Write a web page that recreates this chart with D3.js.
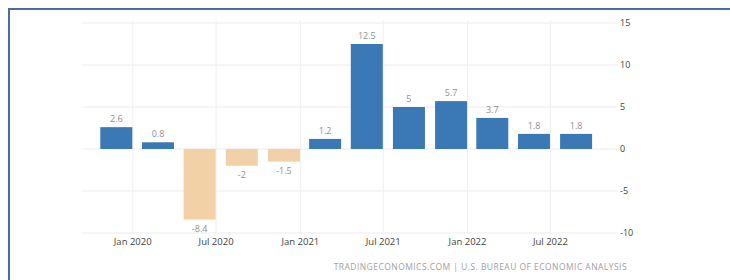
<!DOCTYPE html>
<html>
<head>
    <style>
        html, body { margin: 0; padding: 0; background: #fff; overflow: hidden; }
        body { width: 730px; height: 280px; }
        text { font-family: "Open Sans", "DejaVu Sans", sans-serif; }
    </style>
</head>
<body>
<script src="https://d3js.org/d3.v7.min.js"></script>
<script>
    // quarter-end dates and GDP growth values
    const dates = ["2019-12-31", "2020-03-31", "2020-06-30", "2020-09-30", "2020-12-31", "2021-03-31",
                   "2021-06-30", "2021-09-30", "2021-12-31", "2022-03-31", "2022-06-30", "2022-09-30"];
    const values = [2.6, 0.8, -8.4, -2, -1.5, 1.2, 12.5, 5, 5.7, 3.7, 1.8, 1.8];
    const labels = ["2.6", "0.8", "-8.4", "-2", "-1.5", "1.2", "12.5", "5", "5.7", "3.7", "1.8", "1.8"];
    const xTicks = ["2020-01-01", "2020-07-01", "2021-01-01", "2021-07-01", "2022-01-01", "2022-07-01"];
    const yTicks = [15, 10, 5, 0, -5, -10];

    const width = 730, height = 280;
    const plotLeft = 81, plotRight = 615, plotTop = 23, plotBottom = 233;
    const barWidth = 32;

    const parse = d3.utcParse("%Y-%m-%d");

    const svg = d3.select("body").append("svg")
        .attr("width", width)
        .attr("height", height);

    // frame: top and left border only
    svg.append("line").attr("x1", 9).attr("x2", 730).attr("y1", 9).attr("y2", 9)
        .attr("stroke", "#4f6aa6").attr("stroke-width", 2);
    svg.append("line").attr("x1", 9).attr("x2", 9).attr("y1", 8).attr("y2", 280)
        .attr("stroke", "#4f6aa6").attr("stroke-width", 2);

    const x = d3.scaleUtc()
        .domain([parse("2019-09-10"), parse("2022-11-19")])
        .range([plotLeft, plotRight]);
    const y = d3.scaleLinear().domain([-10, 15]).range([plotBottom, plotTop]);

    // horizontal grid
    svg.append("g").selectAll("line")
        .data(yTicks)
        .join("line")
        .attr("x1", plotLeft).attr("x2", plotRight + 3)
        .attr("y1", d => y(d)).attr("y2", d => y(d))
        .attr("stroke", "#ebebeb").attr("stroke-width", 1);

    // vertical grid
    svg.append("g").selectAll("line")
        .data(xTicks.map(parse))
        .join("line")
        .attr("x1", d => x(d)).attr("x2", d => x(d))
        .attr("y1", plotTop - 3).attr("y2", plotBottom)
        .attr("stroke", "#f0f0f0").attr("stroke-width", 1);

    const data = dates.map((d, i) => ({date: parse(d), value: values[i], label: labels[i]}));

    svg.append("g").selectAll("rect")
        .data(data)
        .join("rect")
        .attr("x", d => x(d.date) - barWidth)
        .attr("width", barWidth)
        .attr("y", d => y(Math.max(0, d.value)))
        .attr("height", d => Math.abs(y(d.value) - y(0)))
        .attr("fill", d => d.value >= 0 ? "#3b78b6" : "#f2d1a6");

    // value labels
    svg.append("g").selectAll("text")
        .data(data)
        .join("text")
        .attr("x", d => x(d.date) - barWidth / 2)
        .attr("y", d => d.value >= 0 ? y(d.value) - 5 : y(d.value) + 12)
        .attr("text-anchor", "middle")
        .attr("font-size", 9)
        .attr("fill", "#8f8f8f")
        .text(d => d.label);

    // y axis labels (right side)
    svg.append("g").selectAll("text")
        .data(yTicks)
        .join("text")
        .attr("x", 620)
        .attr("y", d => y(d) + 3)
        .attr("font-size", 9)
        .attr("fill", "#444")
        .text(d => d);

    // x axis labels
    const fmt = d3.utcFormat("%b %Y");
    svg.append("g").selectAll("text")
        .data(xTicks.map(parse))
        .join("text")
        .attr("x", d => x(d))
        .attr("y", 245)
        .attr("text-anchor", "middle")
        .attr("font-size", 9.5)
        .attr("fill", "#444")
        .text(d => fmt(d));

    // source
    svg.append("text")
        .attr("x", 627)
        .attr("y", 270)
        .attr("text-anchor", "end")
        .attr("font-size", 8.5)
        .attr("letter-spacing", 0.45)
        .attr("fill", "#a0a0a0")
        .text("TRADINGECONOMICS.COM | U.S. BUREAU OF ECONOMIC ANALYSIS");
</script>
</body>
</html>
